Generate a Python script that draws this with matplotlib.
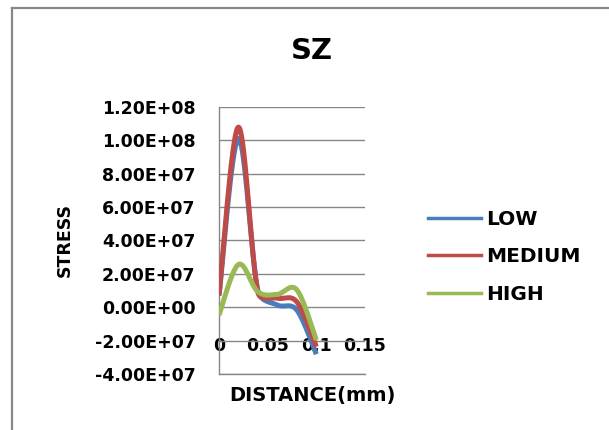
import numpy as np
import matplotlib
matplotlib.use("Agg")
import matplotlib.pyplot as plt
from matplotlib.lines import Line2D

plt.rcParams['font.family'] = ['DejaVu Sans']
plt.rcParams['font.weight'] = 'bold'

distance = [0.0, 0.02, 0.04, 0.06, 0.08, 0.10]
low = [7.0e6, 1.01e8, 1.0e7, 1.4e6, -1.6e6, -2.8e7]
medium = [7.3e6, 1.078e8, 9.0e6, 5.5e6, 3.3e6, -2.35e7]
high = [-4.6e6, 2.57e7, 9.3e6, 7.8e6, 1.05e7, -1.95e7]
series_names = ['LOW', 'MEDIUM', 'HIGH']
colors = ['#4A7EBB', '#BE4B48', '#98B954']
xticks = [0, 0.05, 0.1, 0.15]
xtick_labels = ['0', '0.05', '0.1', '0.15']
yticks = [-4e7, -2e7, 0, 2e7, 4e7, 6e7, 8e7, 1e8, 1.2e8]
ytick_labels = ['-4.00E+07', '-2.00E+07', '0.00E+00', '2.00E+07', '4.00E+07',
                '6.00E+07', '8.00E+07', '1.00E+08', '1.20E+08']


def smooth_screen(ax, x, y, n=40):
    """Excel-like smoothed line (Bezier, tension 1/6, limited to half the
    segment length), computed in screen space."""
    P = ax.transData.transform(np.column_stack([x, y]).astype(float))
    m = len(P)
    dist = lambda a, b: float(np.hypot(*(b - a)))
    out = []
    for i in range(m - 1):
        p0 = P[i - 1] if i > 0 else P[i]
        p1 = P[i]
        p2 = P[i + 1]
        p3 = P[i + 2] if i + 2 < m else P[i + 1]
        d12 = dist(p1, p2)
        d02 = dist(p0, p2)
        d13 = dist(p1, p3)
        f1 = f2 = 1 / 6
        if d02 / 6 >= d12 / 2 and d02 > 0:
            f1 = d12 / d02 / 2
        if d13 / 6 >= d12 / 2 and d13 > 0:
            f2 = d12 / d13 / 2
        c1 = p1 + (p2 - p0) * f1
        c2 = p2 - (p3 - p1) * f2
        t = np.linspace(0, 1, n)[:, None]
        seg = ((1 - t) ** 3) * p1 + 3 * ((1 - t) ** 2) * t * c1 + 3 * (1 - t) * t ** 2 * c2 + t ** 3 * p2
        out.append(seg if i == 0 else seg[1:])
    out = ax.transData.inverted().transform(np.vstack(out))
    return out[:, 0], out[:, 1]


fig = plt.figure(figsize=(6.09, 4.30), dpi=100)
ax = fig.add_axes([219 / 609, 1 - 374.3 / 430, (365 - 219) / 609, (374.3 - 106.7) / 430])
ax.set_xlim(0, 0.15)
ax.set_ylim(-4e7, 1.2e8)

for vals, name, c in zip([low, medium, high], series_names, colors):
    sx, sy = smooth_screen(ax, distance, vals)
    ax.plot(sx, sy, color=c, lw=3.6, solid_capstyle='butt', label=name, zorder=3)

ax.set_yticks(yticks)
ax.set_yticklabels(ytick_labels, fontsize=12.5, fontweight='bold')
ax.set_xticks(xticks)
ax.set_xticklabels(xtick_labels, fontsize=12.5, fontweight='bold')
ax.set_axisbelow(True)
ax.tick_params(axis='y', length=0, pad=17)
ax.tick_params(axis='x', length=0, pad=-27)
ax.grid(axis='y', color='#868686', lw=1)
for s in ['top', 'right']:
    ax.spines[s].set_visible(False)
for s in ['left', 'bottom']:
    ax.spines[s].set_color('#868686')
    ax.spines[s].set_linewidth(1)

ax.set_xlabel('DISTANCE(mm)', fontsize=14, fontweight='bold')
ax.xaxis.set_label_coords(312 / 609, 1 - 395 / 430, transform=fig.transFigure)
ax.set_ylabel('STRESS', fontsize=12.5, fontweight='bold')
ax.yaxis.set_label_coords(65 / 609, 1 - 240 / 430, transform=fig.transFigure)
ax.xaxis.label.set_va('center')
ax.yaxis.label.set_va('center')

fig.text(312 / 609, 1 - 51 / 430, 'SZ', ha='center', va='center', fontsize=21, fontweight='bold')

handles = [Line2D([], [], color=c, lw=2.5) for c in colors]
fig.legend(handles, series_names, loc='center left', bbox_to_anchor=(428 / 609, 1 - 257 / 430),
           frameon=False, handlelength=2.65, handletextpad=0.25,
           labelspacing=0.9, borderpad=0, borderaxespad=0,
           prop={'weight': 'bold', 'size': 14.5})

# chart border (partially cropped in the reference)
fig.add_artist(Line2D([12 / 609, 12 / 609], [0, 1 - 8 / 430], color='#888888', lw=1.6,
                      transform=fig.transFigure))
fig.add_artist(Line2D([12 / 609, 1], [1 - 8 / 430, 1 - 8 / 430], color='#888888', lw=1.6,
                      transform=fig.transFigure))

fig.savefig('out.png', dpi=100)
